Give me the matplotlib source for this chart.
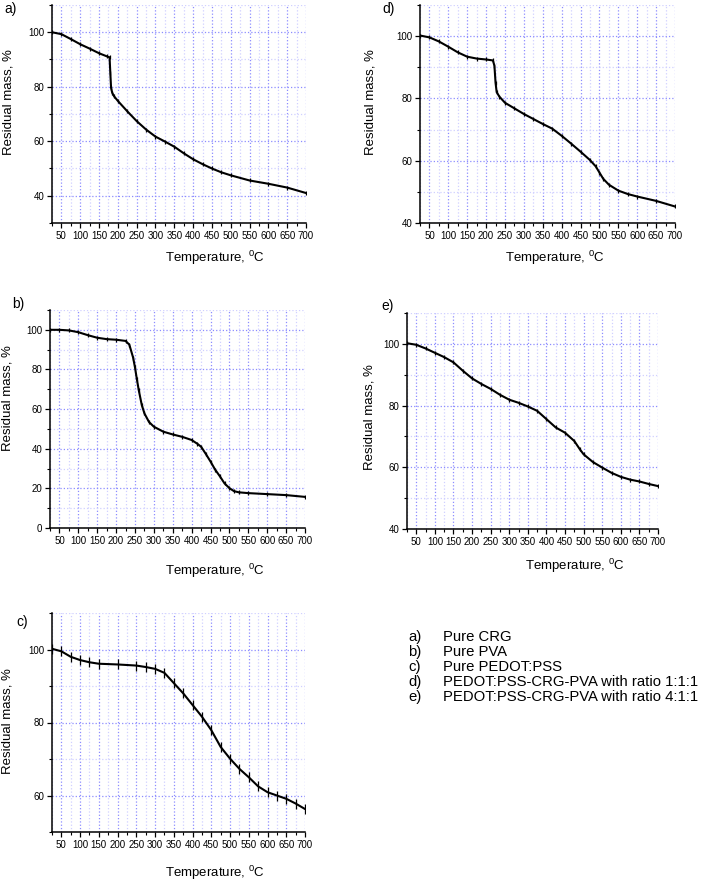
import matplotlib
matplotlib.use("Agg")
import matplotlib.pyplot as plt
from matplotlib.ticker import MultipleLocator

plt.rcParams["font.family"] = ["Liberation Sans", "DejaVu Sans"]
plt.rcParams["mathtext.fontset"] = "custom"
plt.rcParams["mathtext.rm"] = "Liberation Sans"

# TGA data (temperature in C, residual mass in %)
temp_a = [25, 50, 75, 100, 125, 150, 170, 178, 180, 182, 185, 190, 200, 225, 250, 275,
          300, 325, 350, 375, 400, 425, 450, 475, 500, 550, 600, 650, 700]
mass_a = [100.0, 99.3, 97.5, 95.6, 94.0, 92.3, 91.2, 90.8, 85.0, 79.6, 77.8, 76.5, 74.8,
          71.0, 67.4, 64.3, 61.7, 59.9, 58.0, 55.6, 53.4, 51.6, 50.0, 48.6, 47.5, 45.6,
          44.4, 43.0, 41.0]

temp_b = [25, 50, 75, 100, 125, 150, 175, 200, 225, 235, 245, 250, 255, 260, 268, 275,
          287, 300, 325, 350, 375, 400, 415, 425, 437, 450, 462, 475, 487, 500, 512, 525,
          550, 600, 650, 700]
mass_b = [100.0, 100.0, 99.7, 98.8, 97.3, 96.0, 95.3, 95.0, 94.4, 92.5, 86.0, 81.0, 75.0,
          69.5, 62.0, 57.8, 53.5, 51.1, 48.6, 47.2, 46.0, 44.4, 42.5, 41.0, 37.5, 33.5,
          29.5, 26.0, 22.5, 20.1, 18.6, 18.0, 17.6, 17.1, 16.6, 15.7]

temp_c = [25, 50, 75, 100, 125, 150, 200, 250, 275, 300, 325, 350, 375, 400, 425, 450,
          475, 500, 525, 550, 575, 600, 625, 650, 675, 700]
mass_c = [100.2, 99.5, 98.0, 97.1, 96.5, 96.1, 95.9, 95.6, 95.2, 94.7, 93.6, 90.8, 88.0,
          84.8, 81.6, 77.9, 73.3, 70.1, 67.3, 65.0, 62.5, 60.9, 60.0, 59.1, 57.8, 56.3]

temp_d = [25, 50, 75, 100, 125, 150, 175, 200, 218, 222, 225, 228, 235, 250, 275, 300,
          325, 350, 375, 400, 425, 450, 475, 490, 500, 510, 525, 550, 575, 600, 650, 700]
mass_d = [100.2, 99.6, 98.3, 96.6, 94.8, 93.4, 92.8, 92.5, 92.2, 90.5, 85.0, 82.0, 80.6,
          78.6, 76.8, 75.0, 73.4, 71.8, 70.3, 68.0, 65.5, 62.9, 60.2, 58.2, 56.2, 54.2,
          52.3, 50.4, 49.3, 48.5, 47.1, 45.3]

temp_e = [25, 50, 75, 100, 125, 150, 175, 200, 225, 250, 275, 300, 325, 350, 375, 400,
          425, 450, 475, 490, 500, 525, 550, 575, 600, 625, 650, 675, 700]
mass_e = [100.2, 99.7, 98.5, 97.1, 95.7, 94.0, 91.3, 88.8, 87.0, 85.4, 83.5, 81.9, 80.9,
          79.7, 78.3, 75.6, 72.9, 71.2, 68.5, 65.8, 64.2, 61.7, 59.9, 58.2, 56.9, 56.0,
          55.4, 54.6, 53.9]

legend_keys = ["a)", "b)", "c)", "d)", "e)"]
legend_names = ["Pure CRG", "Pure PVA", "Pure PEDOT:PSS",
                "PEDOT:PSS-CRG-PVA with ratio 1:1:1",
                "PEDOT:PSS-CRG-PVA with ratio 4:1:1"]

W, H = 713, 881
fig = plt.figure(figsize=(W / 100, H / 100), dpi=100)


def panel(l, t, r, b, temp, mass, ylim, yticks, tag, tagxy, xlab_xy, ylab_xy, ms=3):
    ax = fig.add_axes([l / W, 1 - b / H, (r - l) / W, (b - t) / H])
    ax.plot(temp, mass, color="black", lw=1.5, marker="|", ms=ms, mew=0.9)
    ax.set_xlim(25, 700)
    ax.set_ylim(*ylim)
    ax.set_xticks(range(50, 701, 50))
    ax.xaxis.set_minor_locator(MultipleLocator(25))
    ax.set_yticks(yticks)
    ax.yaxis.set_minor_locator(MultipleLocator(10))
    ax.grid(which="major", color="#8c8cff", ls=":", lw=0.9)
    ax.grid(which="minor", color="#d0d0ff", ls=":", lw=0.9)
    ax.set_axisbelow(True)
    for s in ("top", "right"):
        ax.spines[s].set_visible(False)
    for s in ("left", "bottom"):
        ax.spines[s].set_linewidth(1.1)
    ax.tick_params(which="major", direction="out", length=3.5, width=0.9,
                   labelsize=7, pad=2)
    ax.tick_params(which="minor", direction="out", length=2, width=0.8)
    fig.text(tagxy[0] / W, 1 - tagxy[1] / H, tag, fontsize=10, ha="left", va="center")
    fig.text(xlab_xy[0] / W, 1 - xlab_xy[1] / H, "Temperature, $^{0}$C",
             fontsize=9.5, ha="center", va="center")
    fig.text(ylab_xy[0] / W, 1 - ylab_xy[1] / H, "Residual mass, %",
             fontsize=9.5, ha="center", va="center", rotation=90)
    return ax


panel(52, 5, 306, 223, temp_a, mass_a, (30, 110), [40, 60, 80, 100],
      "a)", (4, 9), (215, 258), (9, 102))
panel(420, 5, 675, 223, temp_d, mass_d, (40, 110), [40, 60, 80, 100],
      "d)", (382, 9), (555, 258), (371, 102))
panel(50, 310, 305, 528, temp_b, mass_b, (0, 110), [0, 20, 40, 60, 80, 100],
      "b)", (12, 304), (215, 571), (8, 398))
panel(407, 313, 658, 529, temp_e, mass_e, (40, 110), [40, 60, 80, 100],
      "e)", (381, 306), (575, 566), (369, 417))
panel(52, 613, 305, 832, temp_c, mass_c, (50, 110), [60, 80, 100],
      "c)", (16, 622), (215, 873), (8, 721), ms=7)

for i, (k, n) in enumerate(zip(legend_keys, legend_names)):
    y = 637 + i * 15
    fig.text(408 / W, 1 - y / H, k, fontsize=10.7, ha="left", va="center")
    fig.text(443 / W, 1 - y / H, n, fontsize=10.7, ha="left", va="center")

fig.savefig("out.png", dpi=100)
